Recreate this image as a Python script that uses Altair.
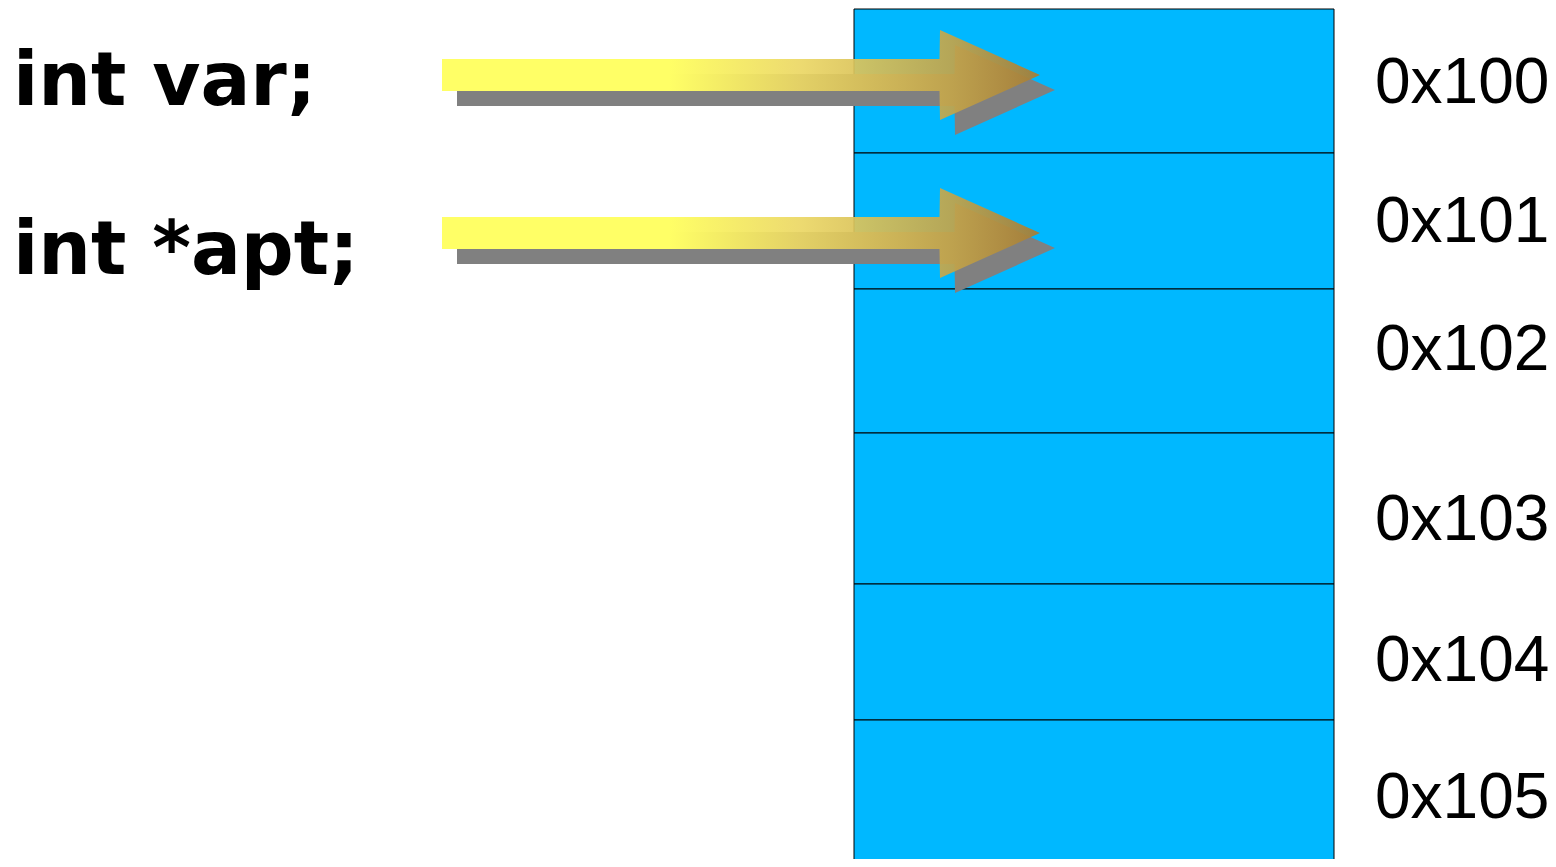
import altair as alt
import pandas as pd

# --- memory column (page pixel coordinates) ---
addresses = ["0x100", "0x101", "0x102", "0x103", "0x104", "0x105"]
cell_top = [9, 153, 289, 433, 584, 720]
cell_bottom = [153, 289, 433, 584, 720, 880]
cell_left = 854
cell_right = 1334
label_x = 1375
label_baseline = [103, 242, 370, 540, 681, 818]

# --- declarations on the left ---
declarations = ["int var;", "int *apt;"]
decl_x = 13
decl_baseline = [105, 274]

# --- arrows: polygon outline points (x, top, bottom) per arrow ---
arrow_x = [442, 939.5, 940, 1040]
arrow1_top = [59, 59, 30, 75]
arrow1_bot = [91, 91, 120, 75]
arrow2_top = [217, 217, 188, 233]
arrow2_bot = [249, 249, 278, 233]
shadow_dx = 15
shadow_dy = 15

cells = pd.DataFrame({
    "addr": addresses, "y": cell_top, "y2": cell_bottom,
    "x": [cell_left] * 6, "x2": [cell_right] * 6,
})
labels = pd.DataFrame({"addr": addresses, "x": [label_x] * 6, "y": label_baseline})
decls = pd.DataFrame({"t": declarations, "x": [decl_x] * 2, "y": decl_baseline})

rows = []
for aid, (tops, bots) in enumerate([(arrow1_top, arrow1_bot), (arrow2_top, arrow2_bot)]):
    for i, (x, t, b) in enumerate(zip(arrow_x, tops, bots)):
        rows.append({"arrow": f"a{aid}", "x": x, "top": t, "bot": b})
arrows = pd.DataFrame(rows)
shadows = arrows.copy()
shadows["x"] = shadows["x"] + shadow_dx
shadows["top"] = shadows["top"] + shadow_dy
shadows["bot"] = shadows["bot"] + shadow_dy

W, H = 1540, 851
xs = alt.Scale(domain=[8, 8 + W], nice=False, zero=False)
ys = alt.Scale(domain=[8 + H, 8], nice=False, zero=False)

mem = alt.Chart(cells).mark_rect(
    fill="#00B8FF", stroke="#000000", strokeWidth=1, clip=True
).encode(
    x=alt.X("x:Q", scale=xs, axis=None),
    x2="x2:Q",
    y=alt.Y("y:Q", scale=ys, axis=None),
    y2="y2:Q",
)

shadow = alt.Chart(shadows).mark_area(color="#808080", interpolate="linear").encode(
    x=alt.X("x:Q", scale=xs, axis=None),
    y=alt.Y("top:Q", scale=ys, axis=None, stack=None),
    y2="bot:Q",
    detail="arrow:N",
)

grad = alt.Gradient(
    gradient="linear",
    x1=0, x2=1, y1=0, y2=0,
    stops=[
        alt.GradientStop(color="#FFFF66", offset=0),
        alt.GradientStop(color="#FFFF66", offset=0.38),
        alt.GradientStop(color="rgba(235,215,100,0.92)", offset=0.60),
        alt.GradientStop(color="rgba(195,165,75,0.93)", offset=0.85),
        alt.GradientStop(color="rgba(165,125,55,0.95)", offset=1),
    ],
)

arrow = alt.Chart(arrows).mark_area(color=grad, interpolate="linear").encode(
    x=alt.X("x:Q", scale=xs, axis=None),
    y=alt.Y("top:Q", scale=ys, axis=None, stack=None),
    y2="bot:Q",
    detail="arrow:N",
)

hex_text = alt.Chart(labels).mark_text(
    align="left", baseline="alphabetic", font="Liberation Sans",
    fontSize=64, color="#000000"
).encode(
    x=alt.X("x:Q", scale=xs, axis=None),
    y=alt.Y("y:Q", scale=ys, axis=None),
    text="addr:N",
)

decl_text = alt.Chart(decls).mark_text(
    align="left", baseline="alphabetic", font="DejaVu Sans",
    fontWeight="bold", fontSize=74, color="#000000"
).encode(
    x=alt.X("x:Q", scale=xs, axis=None),
    y=alt.Y("y:Q", scale=ys, axis=None),
    text="t:N",
)

chart = alt.layer(mem, shadow, arrow, hex_text, decl_text).properties(
    width=W, height=H, padding=0, background="#FFFFFF",
    autosize=alt.AutoSizeParams(type="none"),
).configure_view(stroke=None)

chart.save("out.html", embed_options={"renderer": "svg", "actions": False})
